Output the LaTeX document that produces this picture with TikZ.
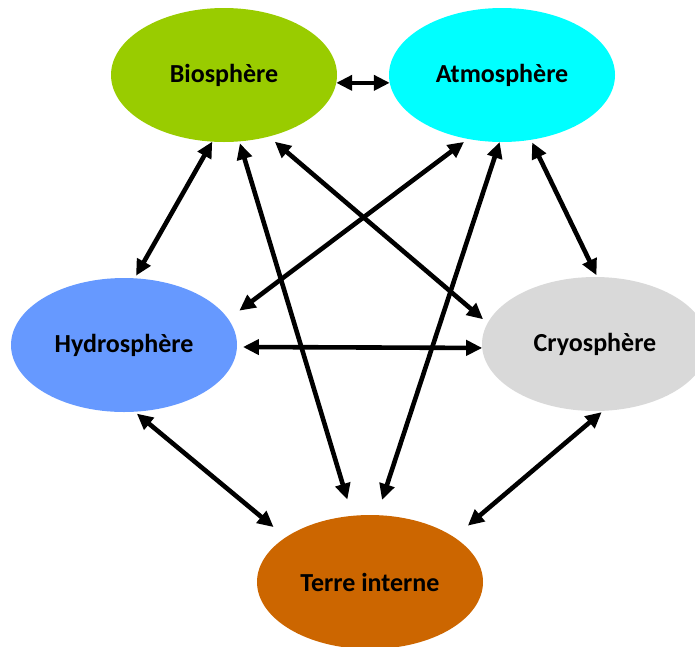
\documentclass[tikz,border=0pt]{standalone}
\usepackage{fontspec}
\setmainfont{Carlito}
\usetikzlibrary{positioning,calc,arrows.meta,shapes.geometric}
\definecolor{biogreen}{HTML}{99CC00}
\definecolor{atmocyan}{HTML}{00FFFF}
\definecolor{hydroblue}{HTML}{6699FF}
\definecolor{cryogray}{HTML}{D9D9D9}
\definecolor{terreorange}{HTML}{CC6600}
\tikzset{font=\bfseries\fontsize{26}{30}\selectfont}
\tikzset{sphere/.style={ellipse, minimum width=226pt, minimum height=134pt, inner sep=0pt, outer sep=0pt}}
\tikzset{link/.style={{Triangle[length=16pt,width=15pt]}-{Triangle[length=16pt,width=15pt]}, line width=4.6pt}}

\begin{document}
\begin{tikzpicture}[x=1pt, y=-1pt]
	\useasboundingbox (0, 0) rectangle (695, 646);
	\clip (0, 0) rectangle (695, 646);
	\begin{scope}
		\node[sphere, fill=biogreen] (bio) at (224, 75) {Biosphère};
		\node[sphere, fill=atmocyan] (atmo) at (502, 75) {Atmosphère};
		\node[sphere, fill=hydroblue] (hydro) at (124, 345) {Hydrosphère};
		\node[sphere, fill=cryogray] (cryo) at (595, 344) {Cryosphère};
		\node[sphere, fill=terreorange] (terre) at (370, 582) {Terre interne};

		\draw[link] (bio.-4) -- (atmo.184);
		\draw[link, shorten >=3pt] (bio.-100) -- (hydro.81);
		\draw[link, shorten <=2pt, shorten >=17pt] (bio.-77) -- (terre.105);
		\draw[link, shorten <=8pt, shorten >=6pt] (bio.-54) -- (cryo.169);
		\draw[link, shorten <=5pt, shorten >=14pt] (atmo.-118) -- (hydro.14);
		\draw[link, shorten >=16pt] (atmo.-92) -- (terre.84);
		\draw[link, shorten <=3pt, shorten >=2pt] (atmo.-66) -- (cryo.88);
		\draw[link, shorten <=6pt] (hydro.-1) -- (cryo.182);
		\draw[link, shorten <=3pt, shorten >=16pt] (hydro.-81) -- (terre.152);
		\draw[link, shorten <=2pt, shorten >=18pt] (cryo.-83) -- (terre.28);
	\end{scope}
\end{tikzpicture}
\end{document}
